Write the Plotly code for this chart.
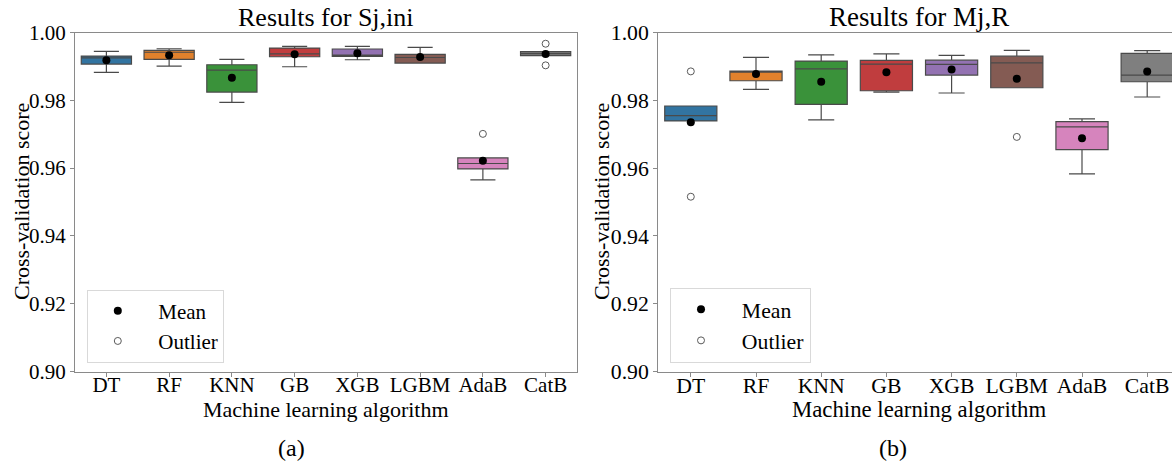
import numpy as np
import plotly.graph_objects as go

# Algorithms compared, in plotting order
ALGORITHMS = ["DT", "RF", "KNN", "GB", "XGB", "LGBM", "AdaB", "CatB"]

# Box fill colours (seaborn-style muted tab10)
PALETTE = ["#3274a1", "#e1812c", "#3a923a", "#c03d3e",
           "#9372b2", "#845b53", "#d684bd", "#7f7f7f"]

# Five-fold cross-validation scores per algorithm, target Sj,ini
SCORES_SJ_INI = [
    [0.98824, 0.99069, 0.99251, 0.99306, 0.99445],  # DT
    [0.99010, 0.99208, 0.99417, 0.99474, 0.99521],  # RF
    [0.97938, 0.98242, 0.98892, 0.99049, 0.99208],  # KNN
    [0.98990, 0.99285, 0.99371, 0.99542, 0.99592],  # GB
    [0.99196, 0.99297, 0.99332, 0.99513, 0.99592],  # XGB
    [0.99099, 0.99099, 0.99263, 0.99356, 0.99563],  # LGBM
    [0.95651, 0.95976, 0.96136, 0.96301, 0.97010],  # AdaB
    [0.99031, 0.99315, 0.99377, 0.99433, 0.99669],  # CatB
]

# Five-fold cross-validation scores per algorithm, target Mj,R
SCORES_MJ_R = [
    [0.95156, 0.97391, 0.97547, 0.97832, 0.98853],  # DT
    [0.98324, 0.98576, 0.98834, 0.98862, 0.99265],  # RF
    [0.97421, 0.97882, 0.98929, 0.99156, 0.99341],  # KNN
    [0.98244, 0.98282, 0.99068, 0.99176, 0.99371],  # GB
    [0.98215, 0.98744, 0.99059, 0.99185, 0.99324],  # XGB
    [0.96920, 0.98370, 0.99106, 0.99303, 0.99471],  # LGBM
    [0.95832, 0.96547, 0.97215, 0.97371, 0.97450],  # AdaB
    [0.98097, 0.98547, 0.98744, 0.99382, 0.99465],  # CatB
]

PANEL_TITLES = ["Results for Sj,ini", "Results for Mj,R"]
PANEL_TAGS = ["(a)", "(b)"]
Y_TICKS = [0.90, 0.92, 0.94, 0.96, 0.98, 1.00]

FONT = "Liberation Serif, Times New Roman, serif"
EDGE = "#4a4a4a"
SPINE = "#8a8a8a"
NBSP = "\u00a0"

W, H = 1172, 470
# full plot-area pixel boxes for each panel (left, right, top, bottom);
# the second panel runs past the right edge of the canvas and is cut there
PANELS = [(75.0, 577.0, 32.5, 371.5), (658.2, 1179.8, 32.5, 371.5)]
FONT_SCALE = [1.0, 1.035]
Y_TITLE_X = [21, 601]
TAG_X = [291, 893]

fig = go.Figure()

for p, scores in enumerate([SCORES_SJ_INI, SCORES_MJ_R]):
    sfx = "" if p == 0 else str(p + 1)
    xa, ya = "x" + sfx, "y" + sfx
    legend_name = "legend" if p == 0 else "legend2"
    for name, vals, col in zip(ALGORITHMS, scores, PALETTE):
        fig.add_trace(go.Box(
            x=[name] * len(vals), y=vals, name=name,
            xaxis=xa, yaxis=ya,
            fillcolor=col, line=dict(color=EDGE, width=1.2),
            width=0.8, whiskerwidth=0.5,
            quartilemethod="inclusive",
            boxpoints="outliers", jitter=0, pointpos=0,
            marker=dict(symbol="circle-open", size=7, color="#5a5a5a",
                        line=dict(width=1)),
            showlegend=False, hoverinfo="y",
        ))
    means = [float(np.mean(v)) for v in scores]
    fig.add_trace(go.Scatter(
        x=ALGORITHMS, y=means, mode="markers", name=NBSP * 2 + "Mean",
        xaxis=xa, yaxis=ya, legend=legend_name,
        marker=dict(color="black", size=8),
    ))
    # legend entry for the outlier circles drawn by the boxes
    fig.add_trace(go.Scatter(
        x=[None], y=[None], mode="markers", name=NBSP * 2 + "Outlier",
        xaxis=xa, yaxis=ya, legend=legend_name,
        marker=dict(symbol="circle-open", color="#5a5a5a", size=7,
                    line=dict(width=1)),
    ))

layout = dict(
    width=W, height=H, margin=dict(l=0, r=0, t=0, b=0, pad=0),
    paper_bgcolor="white", plot_bgcolor="white",
    boxmode="overlay", font=dict(family=FONT, color="black"),
    annotations=[],
)


def ann(text, x, y, size, angle=0):
    return dict(text=text, x=x / W, y=1 - y / H, xref="paper", yref="paper",
                showarrow=False, textangle=angle,
                font=dict(family=FONT, size=size, color="black"),
                xanchor="center", yanchor="middle")


n_cat = len(ALGORITHMS)
for p, (l, r, t, b) in enumerate(PANELS):
    sfx = "" if p == 0 else str(p + 1)
    fs = FONT_SCALE[p]
    r_vis = min(r, W)
    x_hi = -0.5 + n_cat * (r_vis - l) / (r - l)
    axis_common = dict(showline=True, linecolor=SPINE, linewidth=1,
                       ticks="outside", ticklen=4, tickcolor=SPINE,
                       showgrid=False, zeroline=False, automargin=False,
                       tickfont=dict(family=FONT, size=21 * fs, color="black"))
    layout["xaxis" + sfx] = dict(
        axis_common, mirror=True, domain=[l / W, r_vis / W], anchor="y" + sfx,
        type="category", categoryorder="array", categoryarray=ALGORITHMS,
        range=[-0.5, x_hi], ticklabelstandoff=-10,
    )
    layout["yaxis" + sfx] = dict(
        axis_common, mirror=(r <= W), domain=[1 - b / H, 1 - t / H],
        anchor="x" + sfx, range=[0.90, 1.00], tickvals=Y_TICKS,
        tickformat=".2f",
    )
    legend_key = "legend" if p == 0 else "legend2"
    layout[legend_key] = dict(
        x=(l + 11.8) / W, y=1 - (b - 9) / H, xanchor="left", yanchor="bottom",
        bgcolor="white", bordercolor="#d9d9d9", borderwidth=1,
        font=dict(family=FONT, size=21 * fs, color="black"),
        itemwidth=50,
    )
    layout["annotations"] += [
        ann(PANEL_TITLES[p], (l + r) / 2, 17, 26 * fs),
        ann("Machine learning algorithm", (l + r) / 2, 409, 22 * fs),
        ann("Cross-validation score", Y_TITLE_X[p], (t + b) / 2, 22, -90),
        ann(PANEL_TAGS[p], TAG_X[p], 448, 24),
    ]

fig.update_layout(**layout)
fig.write_html("out.html")
